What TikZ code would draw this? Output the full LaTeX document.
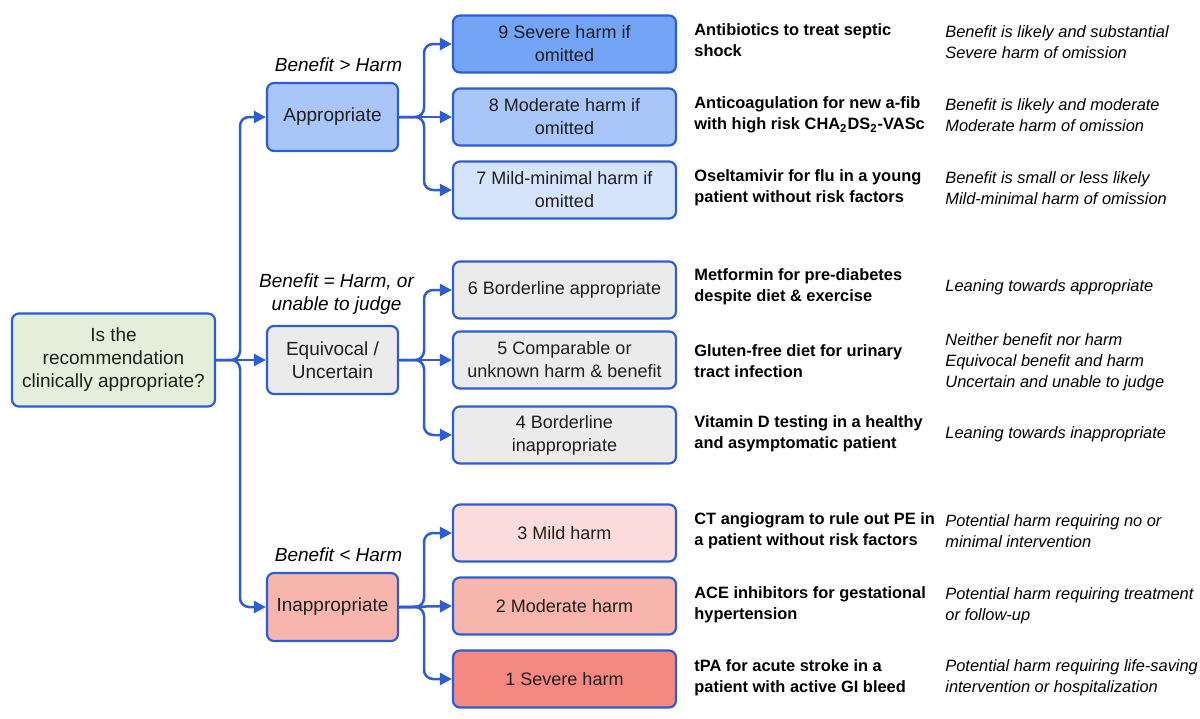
\documentclass[tikz,border=0pt]{standalone}
\usepackage{fontspec}
\setmainfont{Liberation Sans}
\usetikzlibrary{arrows.meta,positioning}

\definecolor{edgeblue}{RGB}{46,93,210}
\definecolor{qgreen}{RGB}{227,239,218}
\definecolor{blueA}{RGB}{116,164,246}
\definecolor{blueB}{RGB}{169,198,248}
\definecolor{blueC}{RGB}{214,228,251}
\definecolor{greyA}{RGB}{235,235,235}
\definecolor{redC}{RGB}{252,220,219}
\definecolor{redB}{RGB}{248,181,174}
\definecolor{redA}{RGB}{245,136,128}

\tikzset{
  box/.style={draw=edgeblue, line width=1.1pt, rounded corners=3.5pt, align=center, inner sep=2pt, text=black!88},
  qbox/.style={box, fill=qgreen, minimum width=101.5pt, minimum height=46.5pt, font=\fontsize{9.5}{11.5}\selectfont},
  midbox/.style={box, minimum width=65.5pt, minimum height=34pt, font=\fontsize{9.5}{11.5}\selectfont},
  rbox/.style={box, minimum width=111.5pt, minimum height=28.5pt, font=\fontsize{9}{11.5}\selectfont},
  ex/.style={anchor=west, align=left, inner sep=0pt, font=\fontsize{8.2}{10.5}\selectfont\bfseries},
  note/.style={anchor=west, align=left, inner sep=0pt, font=\fontsize{8.2}{10.5}\selectfont\itshape},
  tag/.style={align=center, inner sep=0pt, font=\fontsize{9.5}{11.5}\selectfont\itshape},
  link/.style={draw=edgeblue, line width=1.25pt, rounded corners=4.5pt, -{Triangle[length=6pt,width=6pt]}},
}

\begin{document}
\begin{tikzpicture}[x=0.5pt, y=-0.5pt]
    \useasboundingbox (0,0) rectangle (1200,718);

    % Question
    \node[qbox] (q) at (113.5,360) {Is the\\recommendation\\clinically appropriate?};

    % Three categories
    \node[midbox, fill=blueB] (app) at (332.5,117) {Appropriate};
    \node[midbox, fill=greyA] (eq) at (332.5,360) {Equivocal /\\Uncertain};
    \node[midbox, fill=redB] (inapp) at (332.5,607) {Inappropriate};

    \node[tag, above=5pt of app, xshift=3pt] (tapp) {Benefit > Harm};
    \node[tag, above=5pt of eq, xshift=2pt] (teq) {Benefit = Harm, or\\unable to judge};
    \node[tag, above=5pt of inapp, xshift=3pt] (tinapp) {Benefit < Harm};

    % Appropriate scores
    \node[rbox, fill=blueA] (s9) at (564.5,44) {9 Severe harm if\\omitted};
    \node[rbox, fill=blueB] (s8) at (564.5,117) {8 Moderate harm if\\omitted};
    \node[rbox, fill=blueC] (s7) at (564.5,190) {7 Mild-minimal harm if\\omitted};

    % Equivocal scores
    \node[rbox, fill=greyA] (s6) at (564.5,290) {6 Borderline appropriate};
    \node[rbox, fill=greyA] (s5) at (564.5,360) {5 Comparable or\\unknown harm \& benefit};
    \node[rbox, fill=greyA] (s4) at (564.5,435) {4 Borderline\\inappropriate};

    % Inappropriate scores
    \node[rbox, fill=redC] (s3) at (564.5,533) {3 Mild harm};
    \node[rbox, fill=redB] (s2) at (564.5,606) {2 Moderate harm};
    \node[rbox, fill=redA] (s1) at (564.5,679) {1 Severe harm};

    % Examples
    \node[ex] (e9) at (694,40) {Antibiotics to treat septic\\shock};
    \node[ex] (e8) at (694,115) {Anticoagulation for new a-fib\\with high risk CHA\textsubscript{2}DS\textsubscript{2}-VASc};
    \node[ex] (e7) at (694,188) {Oseltamivir for flu in a young\\patient without risk factors};
    \node[ex] (e6) at (694,287) {Metformin for pre-diabetes\\despite diet \& exercise};
    \node[ex] (e5) at (694,361) {Gluten-free diet for urinary\\tract infection};
    \node[ex] (e4) at (694,434) {Vitamin D testing in a healthy\\and asymptomatic patient};
    \node[ex] (e3) at (694,531) {CT angiogram to rule out PE in\\a patient without risk factors};
    \node[ex] (e2) at (694,605) {ACE inhibitors for gestational\\hypertension};
    \node[ex] (e1) at (694,678) {tPA for acute stroke in a\\patient with active GI bleed};

    % Descriptions
    \node[note] (n9) at (945,42) {Benefit is likely and substantial\\Severe harm of omission};
    \node[note] (n8) at (945,115) {Benefit is likely and moderate\\Moderate harm of omission};
    \node[note] (n7) at (945,188) {Benefit is small or less likely\\Mild-minimal harm of omission};
    \node[note] (n6) at (945,287) {Leaning towards appropriate};
    \node[note] (n5) at (945,362) {Neither benefit nor harm\\Equivocal benefit and harm\\Uncertain and unable to judge};
    \node[note] (n4) at (945,434) {Leaning towards inappropriate};
    \node[note] (n3) at (945,531) {Potential harm requiring no or\\minimal intervention};
    \node[note] (n2) at (945,606) {Potential harm requiring treatment\\or follow-up};
    \node[note] (n1) at (945,678) {Potential harm requiring life-saving\\intervention or hospitalization};

    % Junctions
    \coordinate (j0) at (240,360);
    \coordinate (j1) at (424,117);
    \coordinate (j2) at (424,360);
    \coordinate (j3) at (424,607);

    % Connectors
    \draw[link] (q.east) -- (j0) |- (app.west);
    \draw[link] (q.east) -- (eq.west);
    \draw[link] (q.east) -- (j0) |- (inapp.west);

    \draw[link] (app.east) -- (j1) |- (s9.west);
    \draw[link] (app.east) -- (s8.west);
    \draw[link] (app.east) -- (j1) |- (s7.west);

    \draw[link] (eq.east) -- (j2) |- (s6.west);
    \draw[link] (eq.east) -- (s5.west);
    \draw[link] (eq.east) -- (j2) |- (s4.west);

    \draw[link] (inapp.east) -- (j3) |- (s3.west);
    \draw[link] (inapp.east) -- (s2.west);
    \draw[link] (inapp.east) -- (j3) |- (s1.west);
\end{tikzpicture}
\end{document}
